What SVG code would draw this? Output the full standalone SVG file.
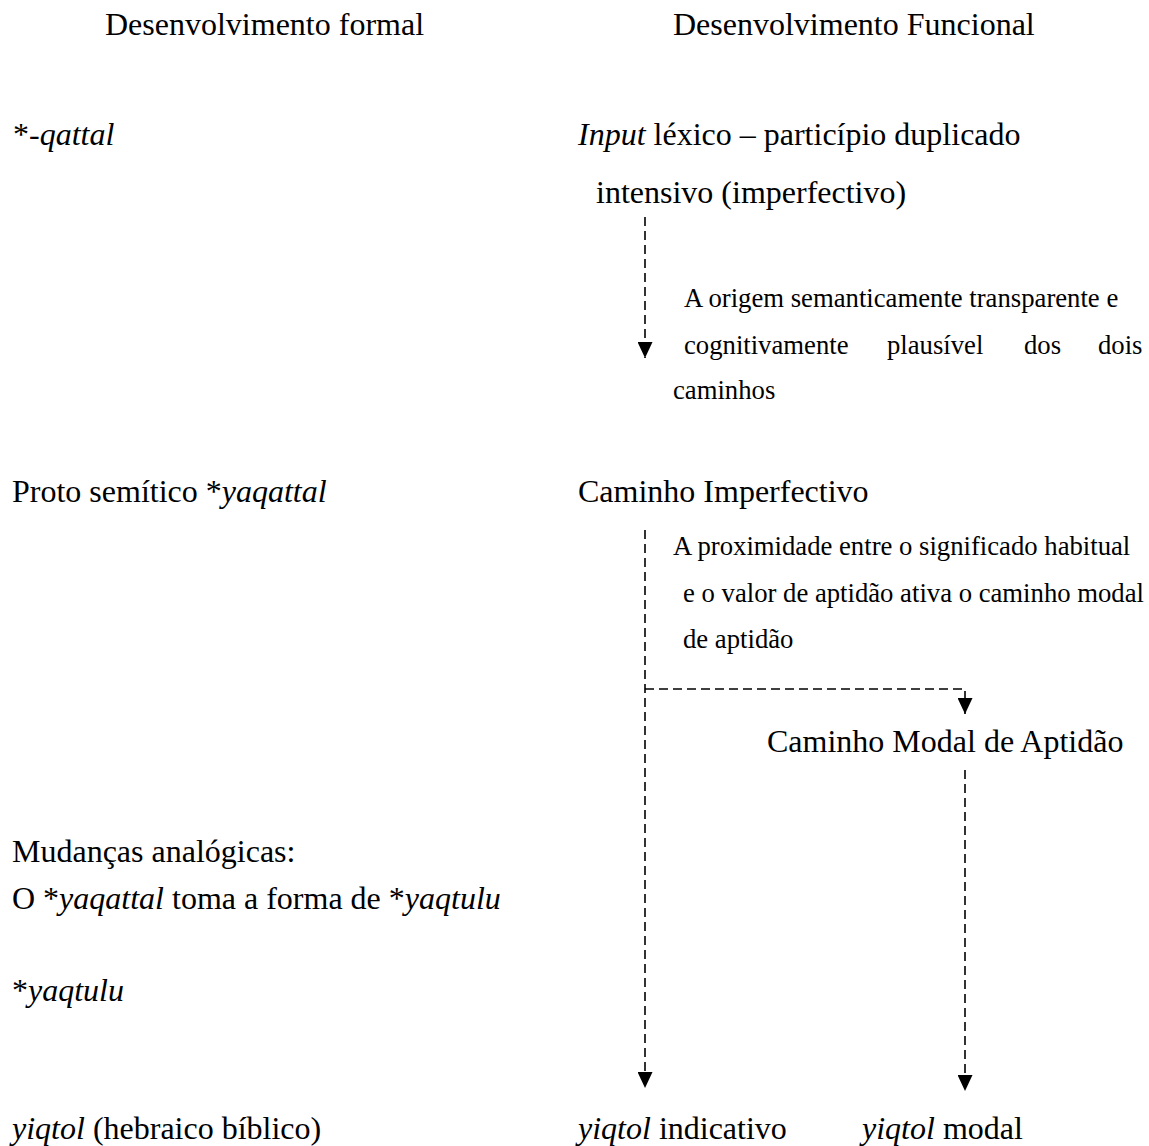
<svg xmlns="http://www.w3.org/2000/svg" width="1149" height="1146" viewBox="0 0 1149 1146">
  <style>
    text { font-family: "Liberation Serif", "Times New Roman", serif; fill: #000; }
    .m { font-size: 32px; }
    .s { font-size: 26.7px; }
    .i { font-style: italic; }
    .c { fill: none; stroke: #000; stroke-width: 1.6; stroke-dasharray: 9 5; }
  </style>
  <defs>
    <marker id="ah" viewBox="0 0 16 15" refX="16" refY="7.5" markerWidth="16" markerHeight="15" markerUnits="userSpaceOnUse" orient="auto">
      <path d="M0,0 L16,7.5 L0,15 z" fill="#000"/>
    </marker>
  </defs>
  <rect width="1149" height="1146" fill="#fff"/>

  <g id="hdr-formal"><text class="m" x="105" y="35">Desenvolvimento formal</text></g>
  <g id="hdr-funcional"><text class="m" x="673" y="35">Desenvolvimento Funcional</text></g>

  <g id="n-qattal"><text class="m" x="13" y="145">*-<tspan class="i">qattal</tspan></text></g>
  <g id="n-input">
    <text class="m" x="578" y="145"><tspan class="i">Input</tspan> léxico – particípio duplicado</text>
    <text class="m" x="596" y="203">intensivo (imperfectivo)</text>
  </g>
  <g id="lbl-origem">
    <text class="s" x="684" y="307">A origem semanticamente transparente e</text>
    <text class="s" y="354"><tspan x="684">cognitivamente</tspan><tspan x="887">plausível</tspan><tspan x="1024">dos</tspan><tspan x="1098">dois</tspan></text>
    <text class="s" x="673" y="399">caminhos</text>
  </g>

  <g id="n-proto"><text class="m" x="12" y="502">Proto semítico *<tspan class="i">yaqattal</tspan></text></g>
  <g id="n-imperf"><text class="m" x="578" y="502">Caminho Imperfectivo</text></g>
  <g id="lbl-proximidade">
    <text class="s" x="673" y="555">A proximidade entre o significado habitual</text>
    <text class="s" x="683" y="602">e o valor de aptidão ativa o caminho modal</text>
    <text class="s" x="683" y="648">de aptidão</text>
  </g>
  <g id="n-modal-path"><text class="m" x="767" y="752">Caminho Modal de Aptidão</text></g>

  <g id="n-mudancas">
    <text class="m" x="12" y="862">Mudanças analógicas:</text>
    <text class="m" x="12" y="909">O *<tspan class="i">yaqattal</tspan> toma a forma de *<tspan class="i">yaqtulu</tspan></text>
  </g>
  <g id="n-yaqtulu"><text class="m" x="12" y="1001">*<tspan class="i">yaqtulu</tspan></text></g>

  <g id="n-yiqtol-heb"><text class="m" x="12" y="1139"><tspan class="i">yiqtol</tspan> (hebraico bíblico)</text></g>
  <g id="n-yiqtol-ind"><text class="m" x="578" y="1139"><tspan class="i">yiqtol</tspan> indicativo</text></g>
  <g id="n-yiqtol-mod"><text class="m" x="862" y="1139"><tspan class="i">yiqtol</tspan> modal</text></g>

  <g id="connectors">
    <line class="c" x1="645" y1="217" x2="645" y2="358" marker-end="url(#ah)"/>
    <line class="c" x1="645" y1="530" x2="645" y2="1088" marker-end="url(#ah)"/>
    <path class="c" d="M645,689 H965 V714" marker-end="url(#ah)"/>
    <line class="c" x1="965" y1="770" x2="965" y2="1091" marker-end="url(#ah)"/>
  </g>
</svg>
